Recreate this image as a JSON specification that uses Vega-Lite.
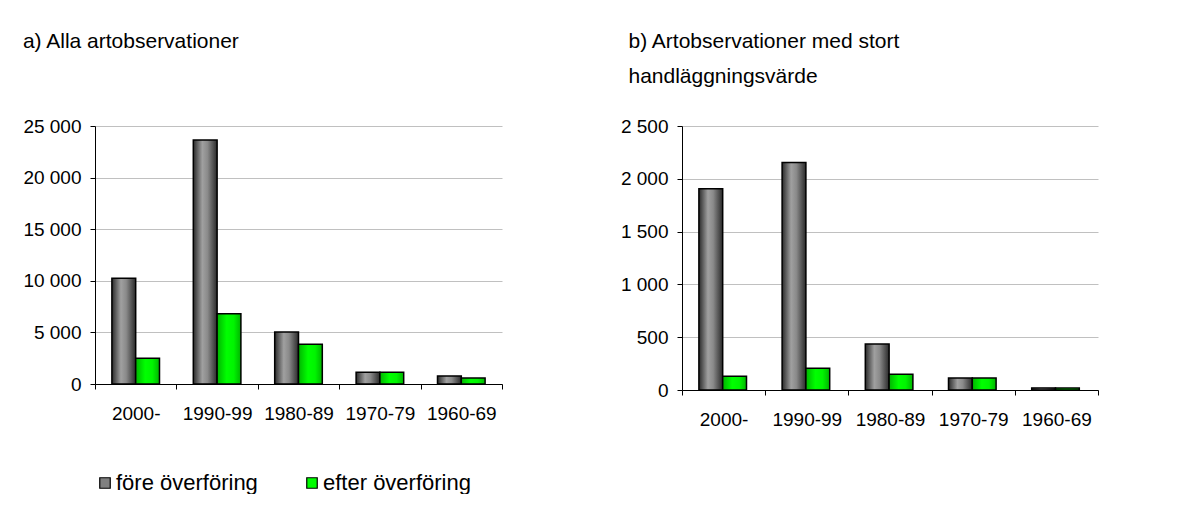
{
  "$schema": "https://vega.github.io/schema/vega-lite/v6.json",
  "padding": {"left": 22, "top": 30, "right": 0, "bottom": 0},
  "background": "white",
  "config": {
    "font": "Liberation Sans",
    "view": {"stroke": null},
    "axis": {
      "labelFont": "Liberation Sans", "labelFontSize": 19, "labelColor": "#000",
      "domainColor": "#000", "tickColor": "#000", "tickSize": 5, "domainWidth": 1, "tickWidth": 1,
      "title": null
    },
    "title": {
      "font": "Liberation Sans", "fontSize": 21, "fontWeight": "normal",
      "anchor": "start", "frame": "bounds", "color": "#000", "lineHeight": 35.5, "offset": 30
    }
  },
  "datasets": {
    "d": [
      {"panel": "a", "period": "2000-", "serie": "före överföring", "antal": 10250},
      {"panel": "a", "period": "1990-99", "serie": "före överföring", "antal": 23650},
      {"panel": "a", "period": "1980-89", "serie": "före överföring", "antal": 5050},
      {"panel": "a", "period": "1970-79", "serie": "före överföring", "antal": 1150},
      {"panel": "a", "period": "1960-69", "serie": "före överföring", "antal": 780},
      {"panel": "a", "period": "2000-", "serie": "efter överföring", "antal": 2500},
      {"panel": "a", "period": "1990-99", "serie": "efter överföring", "antal": 6800},
      {"panel": "a", "period": "1980-89", "serie": "efter överföring", "antal": 3850},
      {"panel": "a", "period": "1970-79", "serie": "efter överföring", "antal": 1150},
      {"panel": "a", "period": "1960-69", "serie": "efter överföring", "antal": 580},
      {"panel": "b", "period": "2000-", "serie": "före överföring", "antal": 1905},
      {"panel": "b", "period": "1990-99", "serie": "före överföring", "antal": 2155},
      {"panel": "b", "period": "1980-89", "serie": "före överföring", "antal": 435},
      {"panel": "b", "period": "1970-79", "serie": "före överföring", "antal": 113},
      {"panel": "b", "period": "1960-69", "serie": "före överföring", "antal": 20},
      {"panel": "b", "period": "2000-", "serie": "efter överföring", "antal": 130},
      {"panel": "b", "period": "1990-99", "serie": "efter överföring", "antal": 205},
      {"panel": "b", "period": "1980-89", "serie": "efter överföring", "antal": 150},
      {"panel": "b", "period": "1970-79", "serie": "efter överföring", "antal": 113},
      {"panel": "b", "period": "1960-69", "serie": "efter överföring", "antal": 18}
    ]
  },
  "data": {"name": "d"},
  "spacing": 117,
  "hconcat": [
    {
      "title": {"text": ["a) Alla artobservationer", " "]},
      "width": 407, "height": 258,
      "transform": [{"filter": "datum.panel === 'a'"}],
      "encoding": {
        "x": {"field": "period", "type": "nominal", "sort": ["2000-", "1990-99", "1980-89", "1970-79", "1960-69"],
              "scale": {"paddingInner": 0, "paddingOuter": 0},
              "axis": {"labelAngle": 0, "tickBand": "extent", "labelPadding": 15}},
        "xOffset": {"field": "serie", "type": "nominal", "sort": ["före överföring", "efter överföring"],
                    "scale": {"paddingInner": 0, "paddingOuter": 0.71}},
        "y": {"field": "antal", "type": "quantitative", "scale": {"domain": [0, 25000], "nice": false},
              "axis": {"values": [0, 5000, 10000, 15000, 20000, 25000], "labelExpr": "replace(format(datum.value, ','), ',', ' ')",
                       "gridColor": "#c0c0c0", "labelPadding": 9}}
      },
      "layer": [
        {"mark": {"type": "bar"},
         "encoding": {"color": {"field": "serie", "type": "nominal",
            "scale": {"domain": ["före överföring", "efter överföring"], "range": ["#808080", "#00ff00"]},
            "legend": {"orient": "none", "legendX": -1, "legendY": 346, "direction": "horizontal", "title": null,
                       "symbolType": "square", "symbolSize": 110, "symbolStrokeColor": "#000", "symbolStrokeWidth": 1.2,
                       "labelFontSize": 22, "labelFont": "Liberation Sans", "labelColor": "#000", "columnPadding": 43,
                       "labelOffset": 0, "symbolOpacity": 1}}}},
        {"transform": [{"filter": "datum.serie === 'före överföring'"}],
         "mark": {"type": "bar", "stroke": "#000", "strokeWidth": 1.5,
                  "color": {"gradient": "linear", "x1": 0, "y1": 0, "x2": 1, "y2": 0,
                            "stops": [{"offset": 0, "color": "#2a2a2a"}, {"offset": 0.38, "color": "#a0a0a0"}, {"offset": 0.6, "color": "#8a8a8a"}, {"offset": 1, "color": "#2a2a2a"}]}}},
        {"transform": [{"filter": "datum.serie === 'efter överföring'"}],
         "mark": {"type": "bar", "stroke": "#000", "strokeWidth": 1.5,
                  "color": {"gradient": "linear", "x1": 0, "y1": 0, "x2": 1, "y2": 0,
                            "stops": [{"offset": 0, "color": "#00b400"}, {"offset": 0.4, "color": "#00ff00"}, {"offset": 0.7, "color": "#00f400"}, {"offset": 1, "color": "#00b400"}]}}}
      ]
    },
    {
      "title": {"text": ["b) Artobservationer med stort", "handläggningsvärde"], "dx": 8},
      "width": 416, "height": 264,
      "transform": [{"filter": "datum.panel === 'b'"}],
      "encoding": {
        "x": {"field": "period", "type": "nominal", "sort": ["2000-", "1990-99", "1980-89", "1970-79", "1960-69"],
              "scale": {"paddingInner": 0, "paddingOuter": 0},
              "axis": {"labelAngle": 0, "tickBand": "extent", "labelPadding": 15}},
        "xOffset": {"field": "serie", "type": "nominal", "sort": ["före överföring", "efter överföring"],
                    "scale": {"paddingInner": 0, "paddingOuter": 0.75}},
        "y": {"field": "antal", "type": "quantitative", "scale": {"domain": [0, 2500], "nice": false},
              "axis": {"values": [0, 500, 1000, 1500, 2000, 2500], "labelExpr": "replace(format(datum.value, ','), ',', ' ')",
                       "gridColor": "#c0c0c0", "labelPadding": 9}}
      },
      "layer": [
        {"mark": {"type": "bar"},
         "encoding": {"color": {"field": "serie", "type": "nominal",
            "scale": {"domain": ["före överföring", "efter överföring"], "range": ["#808080", "#00ff00"]},
            "legend": {"orient": "none", "legendX": -1, "legendY": 346, "direction": "horizontal", "title": null,
                       "symbolType": "square", "symbolSize": 110, "symbolStrokeColor": "#000", "symbolStrokeWidth": 1.2,
                       "labelFontSize": 22, "labelFont": "Liberation Sans", "labelColor": "#000", "columnPadding": 43,
                       "labelOffset": 0, "symbolOpacity": 1}}}},
        {"transform": [{"filter": "datum.serie === 'före överföring'"}],
         "mark": {"type": "bar", "stroke": "#000", "strokeWidth": 1.5,
                  "color": {"gradient": "linear", "x1": 0, "y1": 0, "x2": 1, "y2": 0,
                            "stops": [{"offset": 0, "color": "#2a2a2a"}, {"offset": 0.38, "color": "#a0a0a0"}, {"offset": 0.6, "color": "#8a8a8a"}, {"offset": 1, "color": "#2a2a2a"}]}}},
        {"transform": [{"filter": "datum.serie === 'efter överföring'"}],
         "mark": {"type": "bar", "stroke": "#000", "strokeWidth": 1.5,
                  "color": {"gradient": "linear", "x1": 0, "y1": 0, "x2": 1, "y2": 0,
                            "stops": [{"offset": 0, "color": "#00b400"}, {"offset": 0.4, "color": "#00ff00"}, {"offset": 0.7, "color": "#00f400"}, {"offset": 1, "color": "#00b400"}]}}}
      ]
    }
  ]
}
